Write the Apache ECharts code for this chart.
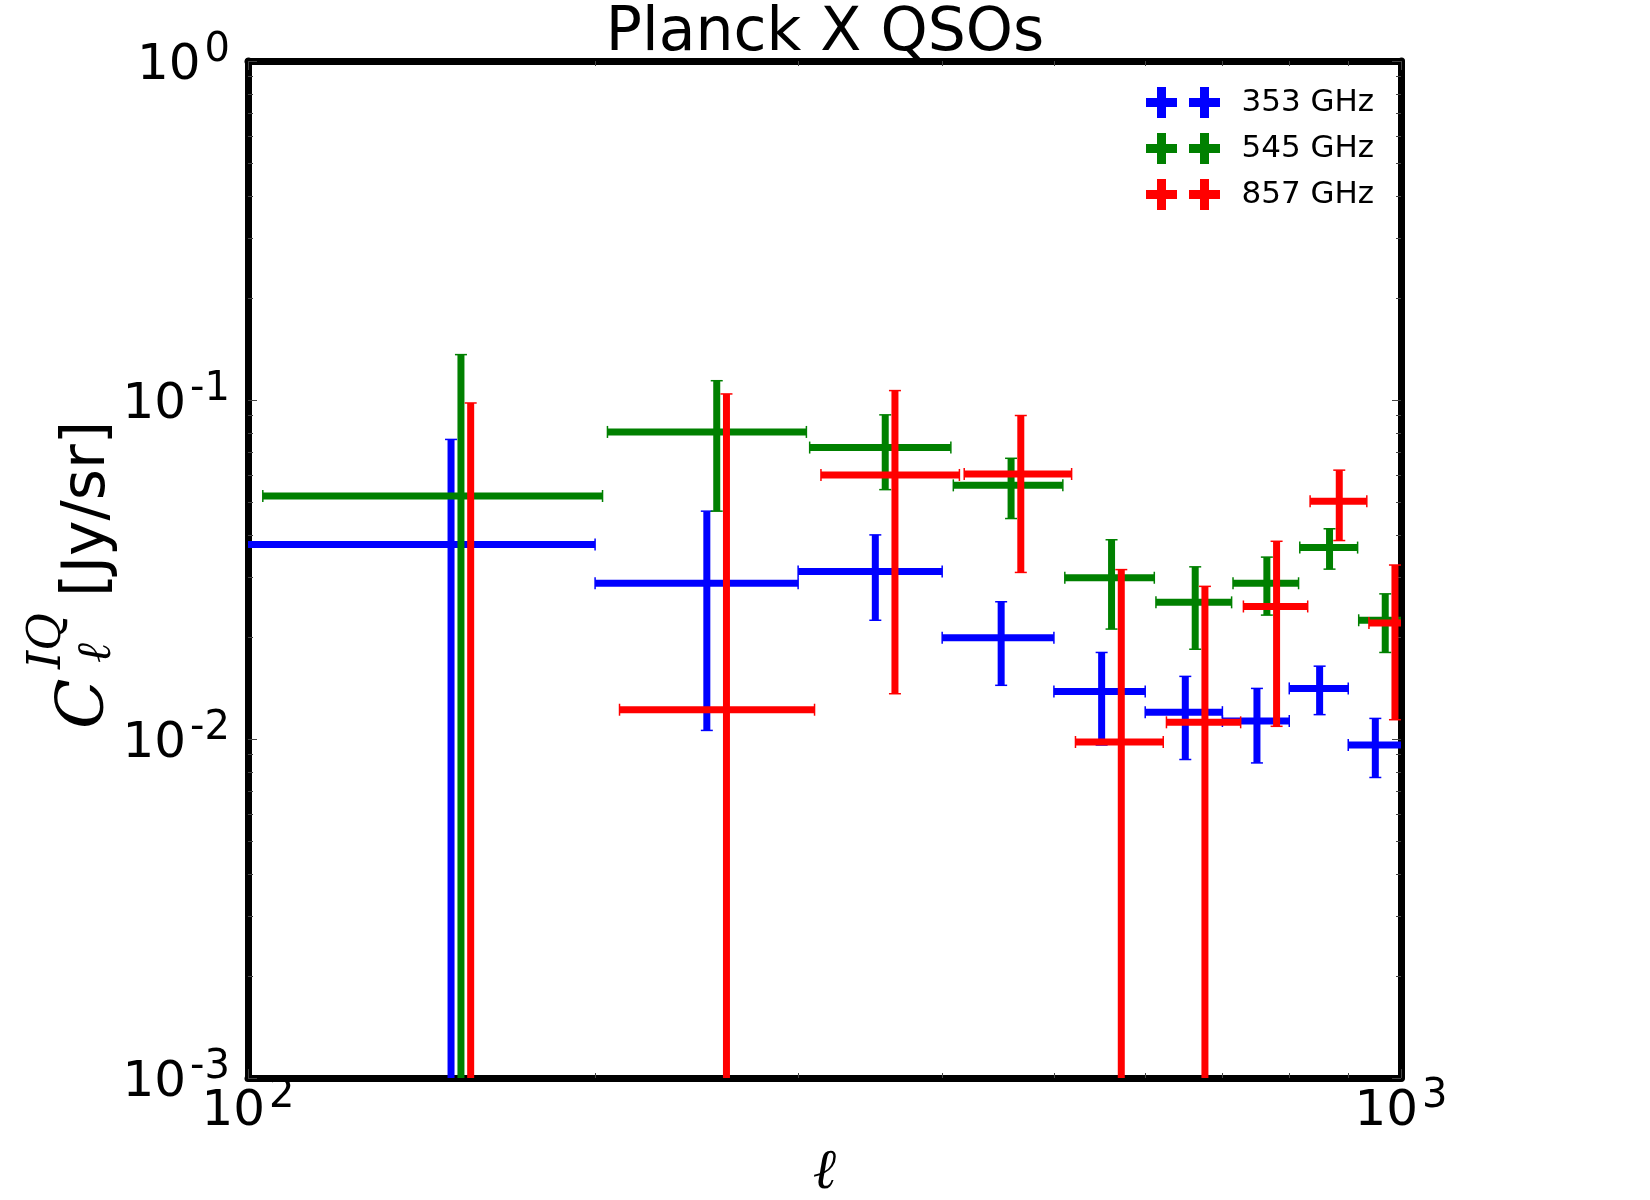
<!DOCTYPE html>
<html>
<head>
<meta charset="utf-8">
<title>Planck X QSOs</title>
<script src="https://cdn.jsdelivr.net/npm/echarts@6.0.0/dist/echarts.min.js"></script>
<style>
  html, body { margin: 0; padding: 0; background: #fff; }
  #chart { width: 1650px; height: 1200px; }
</style>
</head>
<body>
<div id="chart"></div>
<script>
// multipole bin centres (each frequency nudged a little in ell so bars don't overlap)
const ell353 = [150, 250, 350, 450, 550, 650, 750, 850, 950]
const ell545 = [153, 255, 357, 459, 561, 663, 765, 867, 969]
const ell857 = [156, 260, 364, 468, 572, 676, 780, 884, 988]
const binHalfWidth = 50

// C_ell^IQ [Jy/sr] and 1-sigma errors
const cl353 = [0.0375, 0.0288, 0.0312, 0.0199, 0.0138, 0.0120, 0.0113, 0.0141, 0.0096]
const err353 = [0.0390, 0.0182, 0.0088, 0.0055, 0.0042, 0.0033, 0.0028, 0.0023, 0.0019]
const cl545 = [0.0521, 0.0805, 0.0724, 0.0560, 0.0299, 0.0253, 0.0288, 0.0367, 0.0224]
const err545 = [0.0840, 0.0335, 0.0180, 0.0113, 0.0088, 0.0069, 0.0056, 0.0050, 0.0044]
const cl857 = [-0.0100, 0.0122, 0.0601, 0.0605, 0.0098, 0.0112, 0.0246, 0.0503, 0.0220]
const err857 = [0.1080, 0.0920, 0.0465, 0.0295, 0.0218, 0.0170, 0.0137, 0.0118, 0.0106]

const seriesNames = ['353 GHz', '545 GHz', '857 GHz']
const seriesColors = ['#0000ff', '#008000', '#ff0000']

const FONT = 'DejaVu Sans'
const crossIcon = 'path://M0,11H31V20H0Z M11,0H20V31H11Z M43,11H74V20H43Z M54,0H63V31H54Z'

const toRows = (ell, cl, err) => ell.map((l, i) => [l, cl[i], err[i], binHalfWidth])

// draws one errorbar cross, clipped to the plot box
const renderErrorBar = (params, api) => {
  const cs = params.coordSys
  const x = api.value(0)
  const y = api.value(1)
  const yerr = api.value(2)
  const xerr = api.value(3)
  const color = api.visual('color')
  const bottomEdge = cs.y + cs.height
  const rightEdge = cs.x + cs.width
  const lw = 7
  const capHalf = 6
  const style = { stroke: color, lineWidth: lw, lineCap: 'butt' }
  const capStyle = { stroke: color, lineWidth: 1.5 }
  const children = []

  const hi = api.coord([x, y + yerr])
  const cx = hi[0]
  let yTop = hi[1]
  let yBot = (y - yerr) > 0 ? api.coord([x, y - yerr])[1] : bottomEdge + 10
  const topIn = yTop >= cs.y
  const botIn = yBot <= bottomEdge
  yTop = Math.max(yTop, cs.y)
  yBot = Math.min(yBot, bottomEdge)
  children.push({ type: 'line', shape: { x1: cx, y1: yTop, x2: cx, y2: yBot }, style })
  if (topIn) children.push({ type: 'line', shape: { x1: cx - capHalf, y1: yTop, x2: cx + capHalf, y2: yTop }, style: capStyle })
  if (botIn) children.push({ type: 'line', shape: { x1: cx - capHalf, y1: yBot, x2: cx + capHalf, y2: yBot }, style: capStyle })

  if (y > 0) {
    const left = api.coord([x - xerr, y])
    const right = api.coord([x + xerr, y])
    const cy = left[1]
    if (cy >= cs.y && cy <= bottomEdge) {
      const xl = Math.max(left[0], cs.x)
      const xr = Math.min(right[0], rightEdge)
      children.push({ type: 'line', shape: { x1: xl, y1: cy, x2: xr, y2: cy }, style })
      if (left[0] > cs.x + 1) children.push({ type: 'line', shape: { x1: xl, y1: cy - capHalf, x2: xl, y2: cy + capHalf }, style: capStyle })
      if (right[0] < rightEdge - 1) children.push({ type: 'line', shape: { x1: xr, y1: cy - capHalf, x2: xr, y2: cy + capHalf }, style: capStyle })
    }
  }
  return { type: 'group', children }
}

const powerLabel = (v) => {
  const e = Math.round(Math.log10(v))
  return '{b|10}{s|' + e + '}'
}

const labelRich = {
  b: { fontFamily: FONT, fontSize: 50, lineHeight: 50, color: '#000', padding: [21, 0, 0, 0] },
  s: { fontFamily: FONT, fontSize: 40, lineHeight: 40, color: '#000', verticalAlign: 'top', padding: [0, 0, 0, 4] }
}

const boxLine = { show: true, onZero: false, lineStyle: { color: '#000', width: 7 } }
const majorTick = { show: true, inside: true, length: 9, lineStyle: { color: '#444', width: 1 } }
const minorTick = { show: true, splitNumber: 9, length: 5, lineStyle: { color: '#444', width: 1 } }

const baseX = {
  type: 'log', logBase: 10, min: 100, max: 1000,
  axisLine: boxLine, axisTick: majorTick, minorTick: minorTick,
  splitLine: { show: false }, minorSplitLine: { show: false }
}
const baseY = {
  type: 'log', logBase: 10, min: 0.001, max: 1,
  axisLine: boxLine, axisTick: majorTick, minorTick: minorTick,
  splitLine: { show: false }, minorSplitLine: { show: false }
}

const chart = echarts.init(document.getElementById('chart'))

const option = {
  animation: false,
  backgroundColor: '#fff',
  color: seriesColors,
  title: {
    text: 'Planck X QSOs',
    left: 'center',
    top: 4,
    padding: 0,
    textStyle: { fontFamily: FONT, fontSize: 60, fontWeight: 'normal', color: '#000' }
  },
  legend: {
    orient: 'vertical',
    left: 1141,
    top: 82,
    itemWidth: 75,
    itemHeight: 31,
    itemGap: 15,
    data: seriesNames.map(n => ({ name: n, icon: crossIcon })),
    textStyle: { fontFamily: FONT, fontSize: 31, color: '#000', padding: [0, 0, 0, 16] }
  },
  grid: { left: 248, right: 249, top: 61, bottom: 122, outerBoundsMode: 'none' },
  xAxis: [
    {
      ...baseX,
      position: 'bottom',
      name: 'ℓ',
      nameLocation: 'middle',
      nameGap: 75,
      nameTextStyle: { fontFamily: 'DejaVu Serif', fontStyle: 'italic', fontSize: 56, lineHeight: 40, color: '#000' },
      axisLabel: { show: true, margin: -1, formatter: powerLabel, rich: labelRich }
    },
    { ...baseX, position: 'top', axisLabel: { show: false } }
  ],
  yAxis: [
    {
      ...baseY,
      position: 'left',
      axisLabel: { show: true, margin: 18, padding: [0, 0, 10, 0], formatter: powerLabel, rich: labelRich }
    },
    { ...baseY, position: 'right', axisLabel: { show: false } }
  ],
  graphic: [
    {
      type: 'group',
      x: 0,
      y: 729,
      rotation: Math.PI / 2,
      children: [
        { type: 'text', x: 0, y: 86, style: { text: 'C', font: 'italic 66px "DejaVu Serif"', fill: '#000', verticalAlign: 'middle' } },
        { type: 'text', x: 66, y: 98, style: { text: 'ℓ', font: 'italic 48px "DejaVu Serif"', fill: '#000', verticalAlign: 'middle' } },
        { type: 'text', x: 60, y: 48, style: { text: 'IQ', font: 'italic 46px "DejaVu Serif"', fill: '#000', verticalAlign: 'middle' } },
        { type: 'text', x: 132, y: 88, style: { text: '[Jy/sr]', font: '60px "DejaVu Sans"', fill: '#000', verticalAlign: 'middle' } }
      ]
    }
  ],
  series: [
    { name: seriesNames[0], type: 'custom', renderItem: renderErrorBar, encode: { x: 0, y: 1 }, data: toRows(ell353, cl353, err353) },
    { name: seriesNames[1], type: 'custom', renderItem: renderErrorBar, encode: { x: 0, y: 1 }, data: toRows(ell545, cl545, err545) },
    { name: seriesNames[2], type: 'custom', renderItem: renderErrorBar, encode: { x: 0, y: 1 }, data: toRows(ell857, cl857, err857) }
  ]
}

chart.setOption(option)
</script>
</body>
</html>
